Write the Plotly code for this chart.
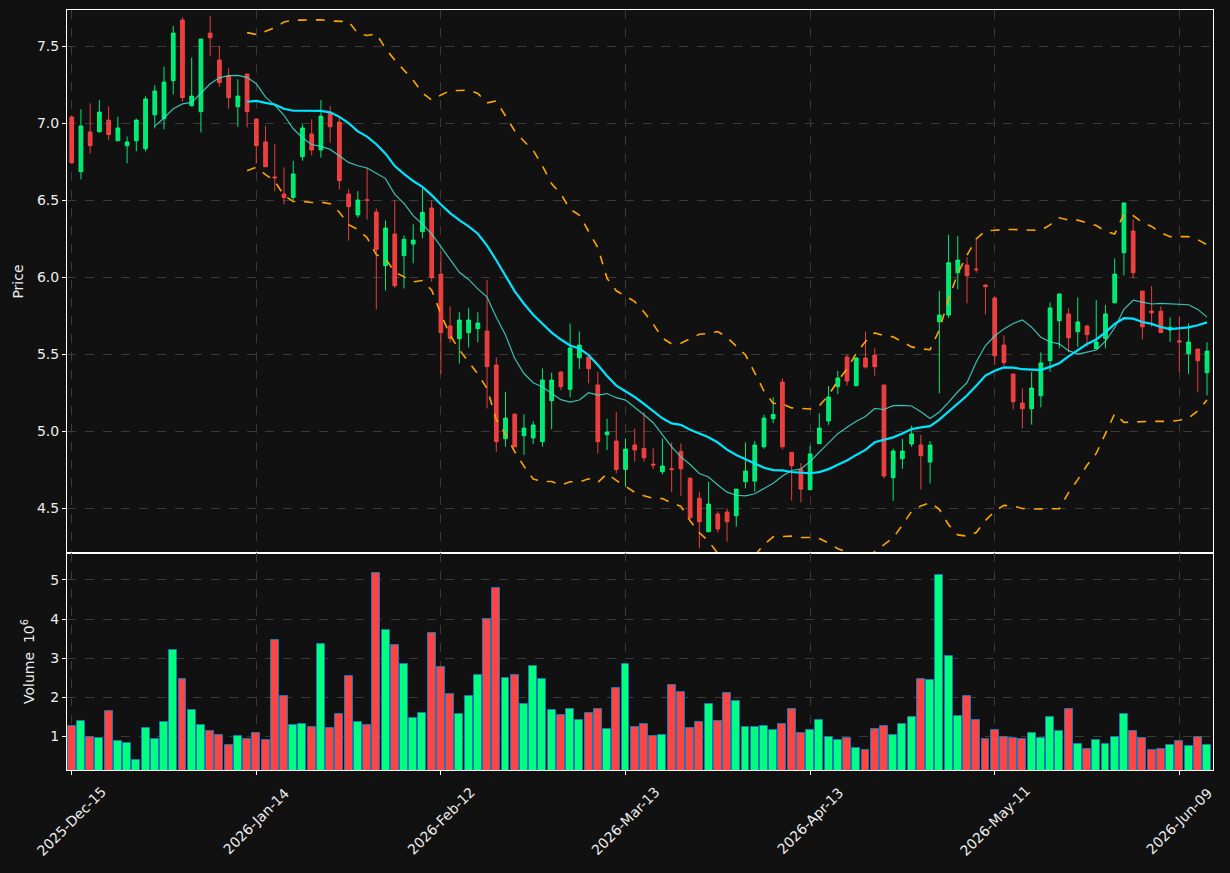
import pandas as pd
import plotly.graph_objects as go
from plotly.subplots import make_subplots

# ---------------- data ----------------
holidays = ["2025-12-25", "2026-01-01", "2026-01-19", "2026-02-16", "2026-04-03", "2026-05-25"]
_days = [d for d in pd.bdate_range("2025-12-15", "2026-06-12") if d.strftime("%Y-%m-%d") not in holidays]
dates = [d.strftime("%Y-%m-%d") for d in _days]

opens = [7.039, 6.684, 6.942, 6.944, 7.019, 6.885, 6.853, 6.885, 6.833, 7.054,
         7.030, 7.275, 7.669, 7.113, 7.074, 7.584, 7.409, 7.307, 7.106, 7.318,
         7.026, 6.877, 6.650, 6.539, 6.517, 6.781, 6.929, 6.825, 7.063, 7.006,
         6.539, 6.403, 6.502, 6.422, 6.074, 6.279, 6.139, 6.214, 6.294, 6.448,
         6.019, 5.682, 5.600, 5.639, 5.665, 5.649, 5.429, 4.950, 5.110, 4.970,
         4.955, 4.931, 5.197, 5.383, 5.271, 5.476, 5.481, 5.299, 4.976, 4.935,
         4.751, 4.909, 4.887, 4.785, 4.736, 4.755, 4.868, 4.693, 4.563, 4.346,
         4.461, 4.474, 4.450, 4.671, 4.675, 4.898, 5.080, 5.318, 4.862, 4.753,
         4.619, 4.918, 5.065, 5.288, 5.481, 5.294, 5.474, 5.494, 5.299, 4.697,
         4.820, 4.916, 4.909, 4.799, 5.710, 5.753, 6.028, 6.078, 6.052, 5.948,
         5.864, 5.558, 5.370, 5.182, 5.145, 5.229, 5.457, 5.716, 5.760, 5.645,
         5.682, 5.535, 5.602, 5.833, 6.158, 6.299, 5.909, 5.779, 5.778, 5.656,
         5.586, 5.504, 5.532, 5.379]
highs = [7.050, 7.089, 7.128, 7.149, 7.108, 7.041, 6.913, 7.028, 7.173, 7.245,
         7.366, 7.630, 7.686, 7.426, 7.545, 7.695, 7.500, 7.355, 7.284, 7.320,
         7.030, 6.981, 6.864, 6.712, 6.755, 6.991, 7.024, 7.149, 7.110, 7.037,
         6.571, 6.558, 6.710, 6.446, 6.368, 6.498, 6.271, 6.342, 6.576, 6.498,
         6.167, 5.810, 5.773, 5.797, 5.771, 5.981, 5.478, 5.253, 5.112, 5.108,
         5.065, 5.407, 5.379, 5.390, 5.699, 5.647, 5.483, 5.385, 5.080, 5.123,
         4.952, 5.017, 5.121, 4.887, 4.952, 4.926, 4.920, 4.700, 4.606, 4.671,
         4.478, 4.498, 4.623, 4.926, 4.935, 5.106, 5.219, 5.342, 4.865, 4.792,
         4.905, 5.115, 5.292, 5.390, 5.496, 5.480, 5.647, 5.537, 5.300, 4.887,
         4.950, 5.035, 4.974, 4.935, 5.909, 6.275, 6.266, 6.128, 6.245, 5.952,
         5.877, 5.621, 5.372, 5.277, 5.383, 5.511, 5.835, 5.890, 5.797, 5.868,
         5.690, 5.851, 5.818, 6.121, 6.481, 6.374, 5.910, 5.942, 5.810, 5.738,
         5.742, 5.699, 5.534, 5.576]
lows = [6.735, 6.634, 6.803, 6.937, 6.890, 6.885, 6.738, 6.816, 6.816, 6.965,
        6.959, 7.186, 7.139, 7.106, 6.939, 7.433, 7.236, 7.093, 6.976, 6.972,
        6.738, 6.716, 6.558, 6.472, 6.500, 6.755, 6.790, 6.775, 6.872, 6.569,
        6.236, 6.385, 6.374, 5.790, 5.913, 5.929, 5.926, 6.089, 6.251, 5.970,
        5.370, 5.574, 5.439, 5.543, 5.576, 5.147, 4.866, 4.898, 4.894, 4.844,
        4.916, 4.898, 5.011, 5.266, 5.219, 5.403, 5.310, 4.855, 4.877, 4.725,
        4.639, 4.801, 4.801, 4.753, 4.719, 4.602, 4.580, 4.437, 4.238, 4.346,
        4.340, 4.281, 4.379, 4.628, 4.606, 4.885, 5.050, 4.881, 4.548, 4.537,
        4.617, 4.918, 5.039, 5.240, 5.296, 5.294, 5.405, 5.359, 4.693, 4.548,
        4.755, 4.898, 4.621, 4.660, 5.245, 5.736, 5.920, 5.829, 6.028, 5.758,
        5.429, 5.422, 5.141, 5.017, 5.042, 5.154, 5.385, 5.537, 5.511, 5.547,
        5.547, 5.535, 5.537, 5.829, 6.011, 5.991, 5.595, 5.677, 5.640, 5.579,
        5.385, 5.370, 5.251, 5.232]
closes = [6.742, 6.981, 6.853, 7.071, 6.926, 6.968, 6.877, 7.019, 7.156, 7.208,
          7.266, 7.584, 7.165, 7.175, 7.545, 7.554, 7.262, 7.165, 7.175, 7.074,
          6.853, 6.716, 6.645, 6.517, 6.669, 6.968, 6.825, 7.045, 6.976, 6.626,
          6.457, 6.500, 6.498, 6.180, 6.318, 5.944, 6.245, 6.240, 6.420, 5.996,
          5.639, 5.602, 5.721, 5.721, 5.701, 5.418, 4.931, 5.084, 4.898, 5.019,
          5.039, 5.331, 5.331, 5.288, 5.539, 5.558, 5.405, 4.931, 4.994, 4.751,
          4.883, 4.877, 4.827, 4.779, 4.773, 4.750, 4.755, 4.437, 4.411, 4.526,
          4.364, 4.411, 4.623, 4.740, 4.909, 5.084, 5.108, 4.898, 4.775, 4.623,
          4.851, 5.019, 5.221, 5.344, 5.325, 5.474, 5.416, 5.418, 4.708, 4.870,
          4.870, 4.981, 4.840, 4.909, 5.753, 6.093, 6.110, 6.009, 6.048, 5.938,
          5.489, 5.444, 5.190, 5.145, 5.279, 5.442, 5.799, 5.890, 5.606, 5.708,
          5.626, 5.578, 5.760, 6.019, 6.481, 6.028, 5.677, 5.768, 5.640, 5.673,
          5.579, 5.578, 5.457, 5.519]
volume_millions = [1.256, 1.384, 0.974, 0.949, 1.640, 0.872, 0.821, 0.386, 1.205, 0.923,
                   1.358, 3.200, 2.458, 1.665, 1.281, 1.128, 1.026, 0.770, 1.000, 0.923,
                   1.077, 0.898, 3.456, 2.023, 1.281, 1.307, 1.230, 3.354, 1.205, 1.563,
                   2.535, 1.358, 1.281, 5.171, 3.712, 3.328, 2.842, 1.461, 1.588, 3.635,
                   2.765, 2.075, 1.563, 2.023, 2.561, 3.994, 4.787, 2.484, 2.561, 1.819,
                   2.791, 2.458, 1.665, 1.537, 1.691, 1.409, 1.588, 1.691, 1.179, 2.228,
                   2.842, 1.230, 1.307, 1.000, 1.026, 2.305, 2.126, 1.205, 1.358, 1.819,
                   1.384, 2.100, 1.896, 1.230, 1.230, 1.256, 1.154, 1.307, 1.691, 1.077,
                   1.154, 1.409, 0.974, 0.898, 0.949, 0.693, 0.642, 1.179, 1.256, 1.026,
                   1.307, 1.486, 2.458, 2.433, 5.119, 3.047, 1.512, 2.023, 1.409, 0.923,
                   1.154, 0.974, 0.949, 0.923, 1.077, 0.949, 1.486, 1.128, 1.691, 0.795,
                   0.667, 0.898, 0.795, 0.974, 1.563, 1.128, 0.949, 0.642, 0.667, 0.770,
                   0.872, 0.744, 0.974, 0.770]

tick_idx = [0, 20, 40, 60, 80, 100, 120]
tick_vals = [dates[i] for i in tick_idx]
tick_text = [pd.Timestamp(dates[i]).strftime("%Y-%b-%d") for i in tick_idx]

# indicators (as in the source chart: SMA10, SMA20 and 20-period Bollinger bands)
close_s = pd.Series(closes)
sma10 = close_s.rolling(10).mean()
sma20 = close_s.rolling(20).mean()
std20 = close_s.rolling(20).std(ddof=0)
bb_upper = sma20 + 2 * std20
bb_lower = sma20 - 2 * std20

# ---------------- style ----------------
BG = "#111111"
UP = "#00ff7f"
DOWN = "#ff4444"
UP_C = "rgba(0,255,127,0.9)"
DOWN_C = "rgba(255,68,68,0.9)"
TXT = "#eeeeee"
GRID = "#3a3a3a"
FONT = "DejaVu Sans"

fig = make_subplots(rows=2, cols=1, shared_xaxes=True, vertical_spacing=0,
                    row_heights=[0.7145, 0.2855])

fig.add_trace(go.Candlestick(
    x=dates, open=opens, high=highs, low=lows, close=closes,
    increasing=dict(line=dict(color=UP_C, width=1), fillcolor=UP_C),
    decreasing=dict(line=dict(color=DOWN_C, width=1), fillcolor=DOWN_C),
    whiskerwidth=0, showlegend=False, hoverinfo="skip"), row=1, col=1)

fig.add_trace(go.Scatter(x=dates, y=sma10, mode="lines",
                         line=dict(color="rgba(64,224,208,0.85)", width=1.2),
                         showlegend=False, hoverinfo="skip"), row=1, col=1)
fig.add_trace(go.Scatter(x=dates, y=sma20, mode="lines",
                         line=dict(color="#00e5ff", width=2.2),
                         showlegend=False, hoverinfo="skip"), row=1, col=1)
for band in (bb_upper, bb_lower):
    fig.add_trace(go.Scatter(x=dates, y=band, mode="lines",
                             line=dict(color="#ffa500", width=1.6, dash="dash"),
                             showlegend=False, hoverinfo="skip"), row=1, col=1)

vol_colors = [UP if c >= o else DOWN for o, c in zip(opens, closes)]
fig.add_trace(go.Bar(x=dates, y=volume_millions, marker=dict(color=vol_colors,
                     line=dict(color="#1f77b4", width=1)),
                     width=0.86, showlegend=False, hoverinfo="skip"), row=2, col=1)

axis_common = dict(showline=True, linecolor="white", linewidth=1, mirror=True,
                   showgrid=True, gridcolor=GRID, griddash="dash", gridwidth=1,
                   ticks="outside", tickcolor="white", ticklen=4, automargin=False,
                   tickfont=dict(family=FONT, size=14, color=TXT), zeroline=False)

xr = [-0.51, 123.65]
fig.update_xaxes(type="category", range=xr, tickvals=tick_vals, ticktext=tick_text,
                 rangeslider_visible=False, showticklabels=False, **axis_common)

# date labels rotated 45 degrees and centred on their ticks (as in the source)
for tv, tt in zip(tick_vals, tick_text):
    fig.add_annotation(x=tv, xref="x2", y=0, yref="paper", text=tt, textangle=-45,
                       showarrow=False, xanchor="center", yanchor="middle", yshift=-51,
                       font=dict(family=FONT, size=14, color=TXT))

fig.update_yaxes(range=[4.208, 7.734], tickvals=[4.5, 5.0, 5.5, 6.0, 6.5, 7.0, 7.5],
                 tickformat=".1f", title=dict(text="Price", standoff=10,
                 font=dict(family=FONT, size=14, color=TXT)), row=1, col=1, **axis_common)
fig.update_yaxes(range=[0.138, 5.69], tickvals=[1, 2, 3, 4, 5],
                 title=dict(text="Volume  10<sup>6</sup>", standoff=12,
                 font=dict(family=FONT, size=14, color=TXT)), row=2, col=1, **axis_common)

fig.update_layout(width=1230, height=873, paper_bgcolor=BG, plot_bgcolor=BG,
                  margin=dict(l=67, r=17, t=10, b=103), boxgap=0.42,
                  font=dict(family=FONT, size=14, color=TXT), showlegend=False,
                  bargap=0)

fig.write_html("out.html")
